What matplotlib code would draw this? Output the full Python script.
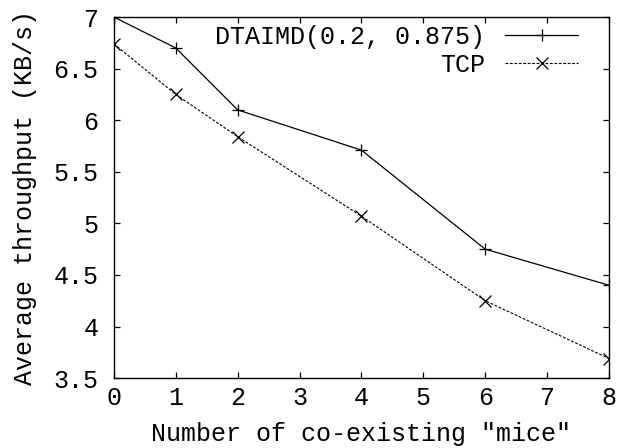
import matplotlib
matplotlib.use("Agg")
import matplotlib.pyplot as plt

mice = [0, 1, 2, 4, 6, 8]
dtaimd = [7.0, 6.70, 6.10, 5.71, 4.75, 4.40]
tcp = [6.74, 6.25, 5.84, 5.07, 4.25, 3.69]
xticks = list(range(0, 9))
yticks = [3.5, 4, 4.5, 5, 5.5, 6, 6.5, 7]

plt.rcParams["font.family"] = ["Liberation Mono", "DejaVu Sans Mono"]
plt.rcParams["font.size"] = 18

fig = plt.figure(figsize=(6.36, 4.48), dpi=100)
ax = fig.add_axes([0.179, 0.156, 0.7785, 0.806])

ax.plot(mice, dtaimd, "-", color="black", lw=0.9, marker="+", ms=9, mew=0.9,
        label="DTAIMD(0.2, 0.875)")
ax.plot(mice, tcp, color="black", lw=0.8, dashes=(2.5, 1.5), marker="x", ms=8,
        mew=0.9, label="TCP")

ax.set_xlim(0, 8)
ax.set_ylim(3.5, 7)
ax.set_xticks(xticks)
ax.set_yticks(yticks)
ax.set_yticklabels(["3.5", "4", "4.5", "5", "5.5", "6", "6.5", "7"])
ax.tick_params(direction="in", length=4.5, width=0.9, top=True, right=True)
ax.tick_params(axis="y", pad=11)
ax.tick_params(axis="x", pad=6)
for s in ax.spines.values():
    s.set_linewidth(1.0)

ax.set_xlabel('Number of co-existing "mice"', labelpad=8)
ax.set_ylabel("Average throughput (KB/s)", labelpad=12)

ax.legend(loc="upper right", bbox_to_anchor=(0.937, 0.978), frameon=False,
          markerfirst=False, handlelength=2.9, handletextpad=0.8,
          labelspacing=0.15, borderpad=0, borderaxespad=0)

fig.savefig("out.png", dpi=100)
